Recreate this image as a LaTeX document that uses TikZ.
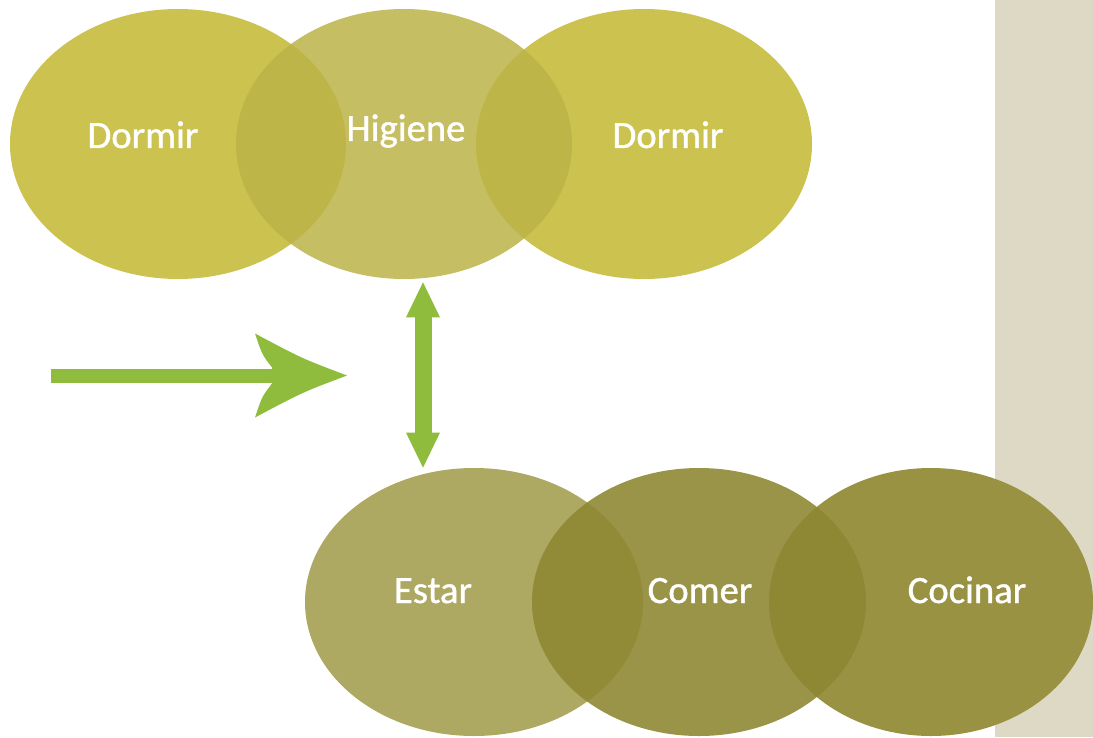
\documentclass[tikz,border=0pt]{standalone}
\usepackage{fontspec}
\setmainfont{Carlito}
\newfontfamily\lblfont{Carlito}[FakeBold=1.0]
\usetikzlibrary{shapes.geometric,arrows.meta}
\pgfdeclarelayer{background}
\pgfdeclarelayer{foreground}
\pgfsetlayers{background,main,foreground}
\definecolor{panelbeige}{RGB}{221,217,196}
\definecolor{oliveA}{RGB}{204,194,80}
\definecolor{oliveB}{RGB}{188,179,72}
\definecolor{oliveC}{RGB}{173,168,98}
\definecolor{oliveD}{RGB}{142,136,52}
\definecolor{oliveE}{RGB}{152,146,66}
\definecolor{arrowgreen}{RGB}{143,188,60}
\tikzset{
  blob/.style={ellipse,inner sep=0pt,minimum width=6.72cm,minimum height=5.4cm},
  lowblob/.style={blob,minimum height=5.36cm},
  lbl/.style={text=white,anchor=base,font=\lblfont\fontsize{22}{26}\selectfont},
}

\begin{document}
\begin{tikzpicture}
\useasboundingbox (0,0) rectangle (21.86,14.74);
\begin{pgfonlayer}{background}
\fill[panelbeige] (19.9,0) rectangle (21.86,14.74);
\end{pgfonlayer}
% top row
\node[blob,fill=oliveA] (dormirL) at (3.56,11.86) {};
\node[blob,fill=oliveA] (dormirR) at (12.88,11.86) {};
\node[blob,fill=oliveB,fill opacity=0.86] (higiene) at (8.08,11.86) {};
% bottom row
\node[lowblob,fill=oliveC,minimum width=6.76cm] (estar) at (9.48,2.7) {};
\node[lowblob,fill=oliveE,minimum width=6.48cm] (cocinar) at (18.62,2.7) {};
\node[lowblob,fill=oliveD,fill opacity=0.9,minimum width=6.68cm] (comer) at (13.98,2.7) {};
\begin{pgfonlayer}{foreground}
\node[lbl] (tDormirL) at (2.86,11.78) {Dormir};
\node[lbl] (tHigiene) at (8.12,11.92) {Higiene};
\node[lbl] (tDormirR) at (13.36,11.78) {Dormir};
\node[lbl] (tEstar) at (8.66,2.68) {Estar};
\node[lbl] (tComer) at (14.0,2.68) {Comer};
\node[lbl] (tCocinar) at (19.34,2.68) {Cocinar};
\end{pgfonlayer}
% arrows
\coordinate (hstart) at (1.02,7.23);
\coordinate (htip) at (6.94,7.23);
\draw[arrowgreen,line width=0.28cm] (hstart) -- ([xshift=-1.45cm]htip);
\begin{scope}[shift={(htip)}]
\fill[arrowgreen] (0,0) .. controls (-0.9,0.34) .. (-1.84,0.84) .. controls (-1.7,0.42) .. (-1.5,0.16) -- (-1.5,-0.16) .. controls (-1.7,-0.42) .. (-1.84,-0.84) .. controls (-0.9,-0.34) .. cycle;
\end{scope}
\coordinate (vx) at (8.46,0);
\draw[arrowgreen,line width=0.34cm,shorten <=0.06cm,{Triangle[length=0.7cm,width=0.68cm,line width=0pt]}-{Triangle[length=0.7cm,width=0.68cm,line width=0pt]}] (vx |- higiene.south) -- (vx |- estar.north);
\end{tikzpicture}
\end{document}
